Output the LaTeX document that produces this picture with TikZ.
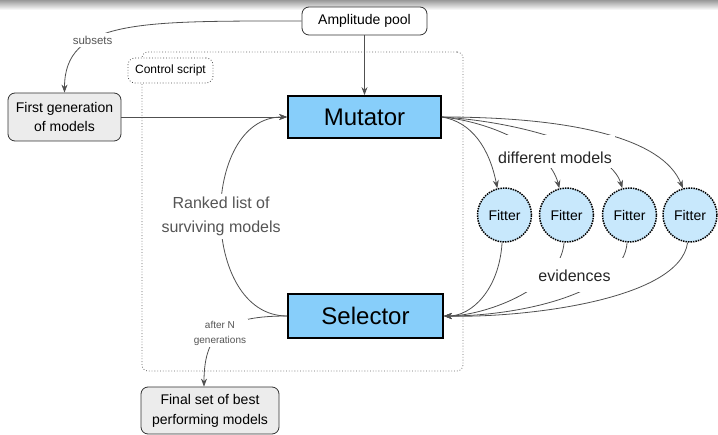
\documentclass[tikz,border=0pt]{standalone}
\usepackage{fontspec}
\setmainfont{Liberation Sans}
\usetikzlibrary{arrows.meta}
\definecolor{skyb}{RGB}{135,206,250}
\definecolor{fitb}{RGB}{200,232,252}
\definecolor{boxg}{RGB}{236,236,236}
\definecolor{lineg}{RGB}{80,80,80}
\definecolor{textg}{RGB}{85,85,85}
\begin{document}
\begin{tikzpicture}[x=1pt,y=-1pt,
  box/.style={draw=black!80, line width=0.8pt, rounded corners=7pt, align=center, inner sep=0pt, font=\fontsize{14}{20}\selectfont},
  proc/.style={draw=black, line width=1.8pt, fill=skyb, inner sep=0pt, font=\fontsize{24}{28}\selectfont},
  fitter/.style={circle, draw=black, line width=1.5pt, densely dotted, fill=fitb, minimum size=54pt, inner sep=0pt, font=\fontsize{14}{16}\selectfont},
  conn/.style={draw=lineg, line width=0.8pt, -{Stealth[length=8pt,width=6pt]}},
  lab/.style={fill=white, text=textg, inner sep=3pt, align=center}]
\useasboundingbox (0,0) rectangle (718,435);
\shade[top color=black!40, bottom color=white] (0,0) rectangle (718,10);

% control script frame
\node[draw=black!60, dotted, line width=0.8pt, rounded corners=6pt, minimum width=321pt, minimum height=319pt, inner sep=0pt] (frame) at (302.5,211.5) {};
\node[draw=black!70, dotted, line width=0.8pt, fill=white, rounded corners=7pt, minimum width=85pt, minimum height=25pt, inner sep=0pt, font=\fontsize{12}{14}\selectfont] (cs) at (170.5,70.5) {Control script};

% nodes
\node[box, fill=white, minimum width=125pt, minimum height=28pt] (pool) at (364.5,21) {Amplitude pool};
\node[box, fill=boxg, minimum width=113pt, minimum height=48pt] (first) at (64.5,117) {First generation\\of models};
\node[box, fill=boxg, minimum width=138pt, minimum height=47pt] (final) at (210,410.5) {Final set of best\\performing models};
\node[proc, minimum width=153pt, minimum height=42pt] (mut) at (364.5,117) {Mutator};
\node[proc, minimum width=155pt, minimum height=44pt] (sel) at (365.5,316) {Selector};
\node[fitter] (f1) at (504.5,215) {Fitter};
\node[fitter] (f2) at (566.5,215) {Fitter};
\node[fitter] (f3) at (629.5,215) {Fitter};
\node[fitter] (f4) at (690,215) {Fitter};

% connectors
\draw[conn] (pool.south) -- (mut.north);
\draw[conn] (first.east) -- (mut.west);
\draw[conn] (pool.west) .. controls +(-162,0) and +(0,-73) .. (first.north)
  node[lab, pos=0.65, font=\fontsize{11.5}{13}\selectfont] {subsets};
\draw[conn] (sel.west) .. controls +(-88,0) and +(-88,0) .. (mut.west)
  node[lab, pos=0.5, font=\fontsize{16}{24}\selectfont] {Ranked list of\\surviving models};
\draw[conn] (sel.west) .. controls +(-58,0) and +(0,-57) .. ([xshift=-6pt]final.north)
  node[lab, pos=0.55, inner sep=2pt, font=\fontsize{10}{15}\selectfont] {after N\\generations};

\draw[conn] (mut.east) .. controls +(30,5) and +(-8,-40) .. (f1.105);
\draw[conn] (mut.east) .. controls +(50,5) and +(-10,-40) .. (f2.105);
\draw[conn] (mut.east) .. controls +(80,5) and +(-12,-40) .. (f3.105);
\draw[conn] (mut.east) .. controls +(130,0) and +(-20,-50) .. (f4.105);

\draw[conn] (f1.265) .. controls +(-3,48) and +(27,0) .. (sel.east);
\draw[conn] (f2.265) .. controls +(-4,48) and +(37,0) .. (sel.east);
\draw[conn] (f3.265) .. controls +(-3,50) and +(77,0) .. (sel.east);
\draw[conn] (f4.265) .. controls +(-8,58) and +(77,2) .. (sel.east);

\node[fill=white, text=black!85, inner xsep=3pt, inner ysep=0pt, text height=28pt, text depth=5pt, anchor=base, font=\fontsize{16}{18}\selectfont] (dm) at (555,163.5) {different models};
\node[fill=white, text=black!85, inner xsep=12pt, inner ysep=0pt, text height=24pt, text depth=10pt, anchor=base, font=\fontsize{16}{18}\selectfont] (ev) at (574.5,282) {evidences};
\end{tikzpicture}
\end{document}
